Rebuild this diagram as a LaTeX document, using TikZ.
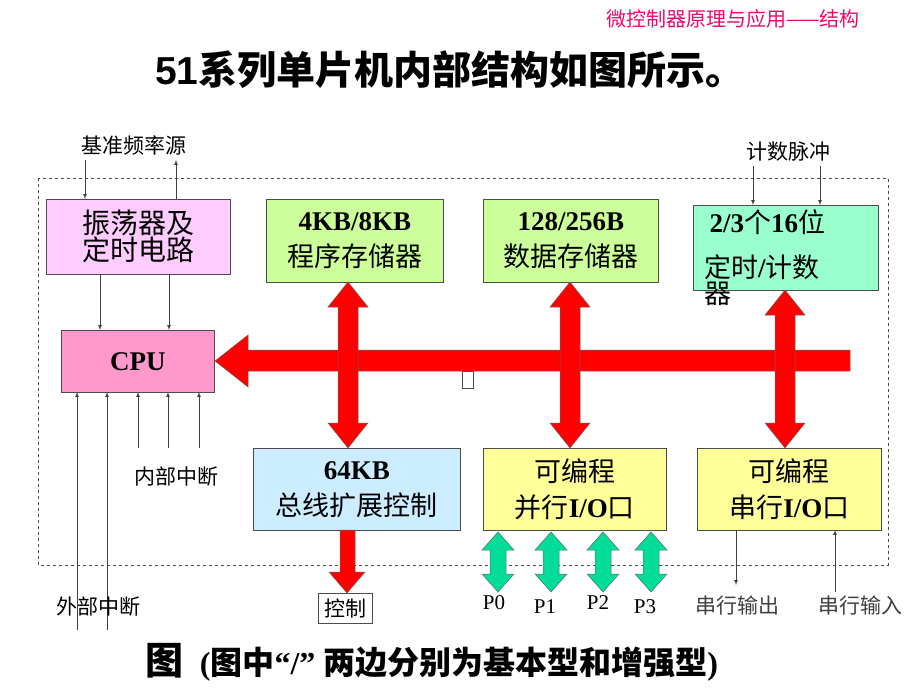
\documentclass[tikz,border=0pt]{standalone}
\usepackage{fontspec}
\setmainfont{Liberation Serif}
\newfontfamily\cjk{Noto Sans CJK SC}
\usetikzlibrary{positioning}
\definecolor{oscpink}{HTML}{FFCCFF}
\definecolor{memgreen}{HTML}{CCFF99}
\definecolor{timmint}{HTML}{99FFCC}
\definecolor{cpupink}{HTML}{FF99CC}
\definecolor{extblue}{HTML}{CCECFF}
\definecolor{ioyellow}{HTML}{FFFF99}
\definecolor{portgreen}{HTML}{00DD99}
\tikzset{
  blk/.style={draw=black!70,line width=0.8pt,anchor=north west,inner sep=0pt,align=center,font=\bfseries\fontsize{27}{30}\selectfont},
  sig/.style={draw=black!75,line width=0.7pt,-latex},
  lbl/.style={font=\cjk\fontsize{21}{22}\selectfont},
}
% vertical double arrow: x, top, bottom, colour
\newcommand\vdarr[4]{%
  \filldraw[fill=#4,draw=black!60,line width=0.5pt]
    (#1,#2) -- ++(20,25) -- ++(-10,0) -- (#1+10,#3-25) -- ++(10,0) -- (#1,#3)
    -- ++(-20,-25) -- ++(10,0) -- (#1-10,#2+25) -- ++(-10,0) -- cycle;}
\newcommand\pdarr[4]{%
  \filldraw[fill=#4,draw=black!60,line width=0.5pt]
    (#1,#2) -- ++(16,18) -- ++(-8,0) -- (#1+8,#3-18) -- ++(8,0) -- (#1,#3)
    -- ++(-16,-18) -- ++(8,0) -- (#1-8,#2+18) -- ++(-8,0) -- cycle;}
\begin{document}
\begin{tikzpicture}[x=1pt,y=-1pt]
  \useasboundingbox (0,0) rectangle (920,690);
  \node[text=magenta!70!red,font=\cjk\fontsize{20}{22}\selectfont] (hdr) at (733,19) {微控制器原理与应用——结构};
  \node[font=\cjk\bfseries\fontsize{39}{42}\selectfont] (title) at (450,70) {\fontspec{Liberation Sans}\bfseries 51\cjk 系列单片机内部结构如图所示。};
  \draw[dashed,black!70,line width=0.8pt] (38,178) rectangle (888,565);

  \node[blk,fill=oscpink,minimum width=184pt,minimum height=75pt,font=\cjk\fontsize{28}{27}\selectfont] (osc) at (46,199) {振荡器及\\定时电路};
  \node[blk,fill=memgreen,minimum width=177pt,minimum height=83pt] (rom) at (266,199) {4KB/8KB\\[6pt]{\cjk\mdseries 程序存储器}};
  \node[blk,fill=memgreen,minimum width=175pt,minimum height=83pt] (ram) at (483,199) {128/256B\\[6pt]{\cjk\mdseries 数据存储器}};
  \node[blk,fill=timmint,minimum width=185pt,minimum height=85pt] (tmr) at (693,205) {};
  \node[font=\bfseries\fontsize{27}{30}\selectfont,anchor=west] (tmra) at (706,222) {2/3{\cjk\mdseries 个}16{\cjk\mdseries 位}};
  \node[font=\bfseries\fontsize{27}{26}\selectfont,anchor=north west,align=left,text width=150pt,inner sep=0pt] (tmrb) at (704,254) {{\cjk\mdseries 定时}/{\cjk\mdseries 计数}\\{\cjk\mdseries 器}};
  \node[blk,fill=cpupink,minimum width=153pt,minimum height=62pt] (cpu) at (61,330) {CPU};
  \node[blk,fill=extblue,minimum width=207pt,minimum height=82pt] (ext) at (253,448) {64KB\\[6pt]{\cjk\mdseries 总线扩展控制}};
  \node[blk,fill=ioyellow,minimum width=183pt,minimum height=82pt] (pio) at (483,448) {{\cjk\mdseries 可编程}\\[6pt]{\cjk\mdseries 并行}I/O{\cjk\mdseries 口}};
  \node[blk,fill=ioyellow,minimum width=184pt,minimum height=82pt] (sio) at (697,448) {{\cjk\mdseries 可编程}\\[6pt]{\cjk\mdseries 串行}I/O{\cjk\mdseries 口}};

  % internal bus
  \filldraw[fill=red,draw=black!60,line width=0.5pt] (850,350) -- (248,350) -- (248,335) -- (215,361) -- (248,387) -- (248,371) -- (850,371) -- cycle;
  \draw[black!70,fill=white] (462,371) rectangle (473,388);
  \vdarr{348}{282}{448}{red}
  \vdarr{570}{282}{448}{red}
  \vdarr{785}{290}{448}{red}
  \filldraw[fill=red,draw=black!60,line width=0.5pt] (340,530) -- (355,530) -- (355,572) -- (365,572) -- (347,593) -- (329,572) -- (340,572) -- cycle;
  \node[draw=black!70,lbl,minimum width=54pt,minimum height=30pt,inner sep=0pt] (ctl) at (345,608) {控制};

  \foreach \x/\p in {498/0,551/1,603/2,651/3}{
    \pdarr{\x}{532}{592}{portgreen}
  }
  \node[font=\fontsize{21}{22}\selectfont] (p0) at (494,603) {P0};
  \node[font=\fontsize{21}{22}\selectfont] (p1) at (545,607) {P1};
  \node[font=\fontsize{21}{22}\selectfont] (p2) at (598,603) {P2};
  \node[font=\fontsize{21}{22}\selectfont] (p3) at (645,607) {P3};

  % clock source
  \node[lbl] (clk) at (134,145) {基准频率源};
  \coordinate (c1) at (85,160);
  \coordinate (c2) at (176,199);
  \draw[sig] (c1) -- (c1 |- osc.north);
  \draw[sig] (c2) -- (176,160);
  \draw[sig] (100,274) -- (100,330);
  \draw[sig] (169,274) -- (169,330);

  % counter pulses
  \node[lbl] (cnt) at (788,152) {计数脉冲};
  \draw[sig] (753,166) -- (753,205);
  \draw[sig] (820,166) -- (820,205);

  % interrupts
  \foreach \x in {77,107}{\draw[sig] (\x,630) -- (\x,392);}
  \foreach \x in {138,168,199}{\draw[sig] (\x,448) -- (\x,392);}
  \node[lbl] (iint) at (176,477) {内部中断};
  \node[lbl] (eint) at (98,607) {外部中断};

  % serial lines
  \draw[sig] (736,530) -- (736,585);
  \draw[sig] (835,592) -- (835,530);
  \node[lbl,text=black!75] (sout) at (737,606) {串行输出};
  \node[lbl,text=black!75] (sin) at (860,606) {串行输入};

  \node[font=\bfseries\fontsize{32}{34}\selectfont] (cap) at (432,662) {{\cjk\fontsize{38}{40}\selectfont 图}\ \ ({\cjk 图中}“/”\ {\cjk 两边分别为基本型和增强型})};
\end{tikzpicture}
\end{document}
